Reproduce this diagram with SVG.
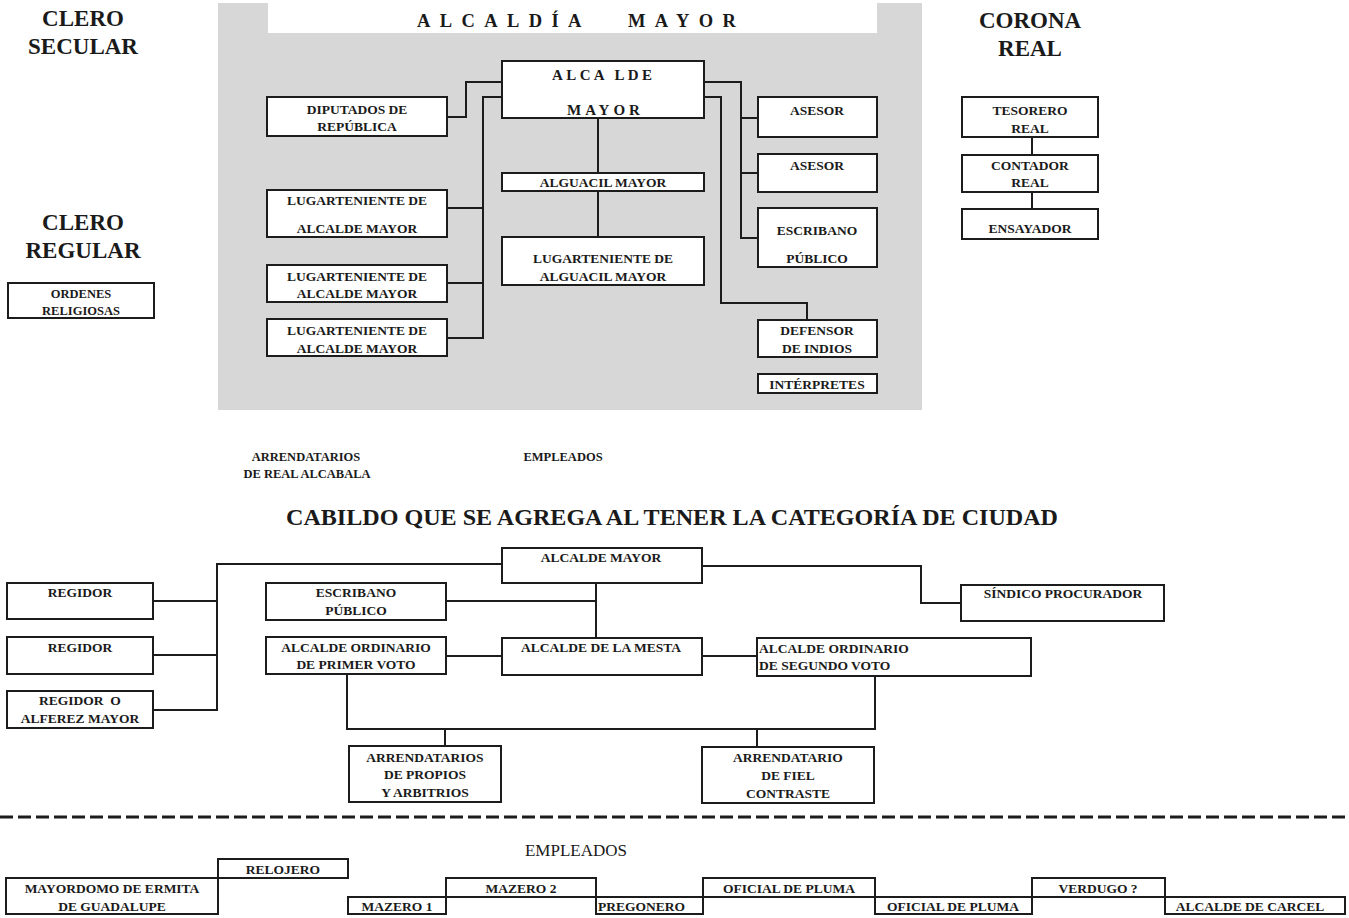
<svg xmlns="http://www.w3.org/2000/svg" width="1349" height="918" viewBox="0 0 1349 918">
<style>
.box{fill:#fff;stroke:#1c1c1c;stroke-width:2}
.conn{fill:none;stroke:#1c1c1c;stroke-width:2}
.t{font-family:"Liberation Serif","Times New Roman",serif;font-weight:bold;font-size:13.5px;fill:#1a1a1a;text-anchor:middle}
.ts{font-family:"Liberation Serif","Times New Roman",serif;font-weight:bold;font-size:12.5px;fill:#1a1a1a;text-anchor:middle}
.l{text-anchor:start}
.h{font-family:"Liberation Serif","Times New Roman",serif;font-weight:bold;font-size:23px;fill:#1a1a1a;text-anchor:middle}
.sp{font-family:"Liberation Serif","Times New Roman",serif;font-weight:bold;fill:#1a1a1a}
.emp{font-family:"Liberation Serif","Times New Roman",serif;font-size:17px;fill:#1a1a1a;text-anchor:middle}
</style>
<rect x="0" y="0" width="1349" height="918" fill="#ffffff"/>
<path d="M218,3 H268 V33 H877 V3 H922 V410 H218 Z" fill="#d7d7d7"/>

<g id="titles">
<text class="sp" font-size="18.5" letter-spacing="9.4" y="27"><tspan x="417">ALCALDÍA</tspan> <tspan x="628">MAYOR</tspan></text>
<text class="h" x="83" y="26">CLERO</text>
<text class="h" x="83" y="54">SECULAR</text>
<text class="h" x="83" y="230">CLERO</text>
<text class="h" x="83" y="258">REGULAR</text>
<text class="h" x="1030" y="28">CORONA</text>
<text class="h" x="1030" y="56">REAL</text>
<text class="sp" font-size="24" x="286" y="525" textLength="772" lengthAdjust="spacingAndGlyphs">CABILDO QUE SE AGREGA AL TENER LA CATEGORÍA DE CIUDAD</text>
<text class="ts" x="306" y="461">ARRENDATARIOS</text>
<text class="ts" x="307" y="478">DE REAL ALCABALA</text>
<text class="ts" x="563" y="461">EMPLEADOS</text>
<text class="emp" x="576" y="856">EMPLEADOS</text>
</g>

<g id="connectors">
<path class="conn" d="M447,117 H466 V82 H502"/>
<path class="conn" d="M502,97 H483 V338 H447 M447,208 H483 M447,283 H483"/>
<path class="conn" d="M598,118 V173 M598,191 V237"/>
<path class="conn" d="M704,82 H741 V238 H758 M741,118 H758 M741,173 H758"/>
<path class="conn" d="M704,97 H721 V303 H807 V320"/>
<path class="conn" d="M1032,137 V155 M1032,192 V209"/>
<path class="conn" d="M502,564 H217 V710 H153 M153,601 H217 M153,655 H217"/>
<path class="conn" d="M702,566 H921 V603 H961"/>
<path class="conn" d="M596,583 V638 M446,601 H596"/>
<path class="conn" d="M446,656 H502 M702,656 H757"/>
<path class="conn" d="M347,674 V729 H875 V676 M445,729 V746 M757,729 V747"/>
<path d="M0,817 H1349" fill="none" stroke="#1c1c1c" stroke-width="3" stroke-dasharray="13 5"/>
</g>

<g id="alcalde-mayor"><rect class="box" x="502" y="61" width="202" height="57"/>
<text class="sp" font-size="15" letter-spacing="3.4" x="552" y="80">ALCA LDE</text>
<text class="sp" font-size="15" letter-spacing="4" x="567" y="115">MAYOR</text></g>
<g id="diputados"><rect class="box" x="267" y="97" width="180" height="39"/>
<text class="t" x="357" y="114">DIPUTADOS DE</text><text class="t" x="357" y="131">REPÚBLICA</text></g>
<g id="lug1"><rect class="box" x="267" y="190" width="180" height="47"/>
<text class="t" x="357" y="205">LUGARTENIENTE DE</text><text class="t" x="357" y="233">ALCALDE MAYOR</text></g>
<g id="lug2"><rect class="box" x="267" y="265" width="180" height="37"/>
<text class="t" x="357" y="281">LUGARTENIENTE DE</text><text class="t" x="357" y="298">ALCALDE MAYOR</text></g>
<g id="lug3"><rect class="box" x="267" y="319" width="180" height="37"/>
<text class="t" x="357" y="335">LUGARTENIENTE DE</text><text class="t" x="357" y="353">ALCALDE MAYOR</text></g>
<g id="alguacil"><rect class="box" x="502" y="173" width="202" height="18"/>
<text class="t" x="603" y="187">ALGUACIL MAYOR</text></g>
<g id="lug-alguacil"><rect class="box" x="502" y="237" width="202" height="48"/>
<text class="t" x="603" y="263">LUGARTENIENTE DE</text><text class="t" x="603" y="281">ALGUACIL MAYOR</text></g>
<g id="asesor1"><rect class="box" x="758" y="97" width="119" height="40"/>
<text class="t" x="817" y="115">ASESOR</text></g>
<g id="asesor2"><rect class="box" x="758" y="154" width="119" height="38"/>
<text class="t" x="817" y="170">ASESOR</text></g>
<g id="escribano"><rect class="box" x="758" y="208" width="119" height="59"/>
<text class="t" x="817" y="235">ESCRIBANO</text><text class="t" x="817" y="263">PÚBLICO</text></g>
<g id="defensor"><rect class="box" x="758" y="320" width="119" height="37"/>
<text class="t" x="817" y="335">DEFENSOR</text><text class="t" x="817" y="353">DE INDIOS</text></g>
<g id="interpretes"><rect class="box" x="758" y="374" width="119" height="19"/>
<text class="t" x="817" y="389">INTÉRPRETES</text></g>

<g id="ordenes"><rect class="box" x="8" y="283" width="146" height="35"/>
<text class="ts" x="81" y="298">ORDENES</text><text class="ts" x="81" y="315">RELIGIOSAS</text></g>

<g id="tesorero"><rect class="box" x="962" y="97" width="136" height="40"/>
<text class="t" x="1030" y="115">TESORERO</text><text class="t" x="1030" y="133">REAL</text></g>
<g id="contador"><rect class="box" x="962" y="155" width="136" height="37"/>
<text class="t" x="1030" y="170">CONTADOR</text><text class="t" x="1030" y="187">REAL</text></g>
<g id="ensayador"><rect class="box" x="962" y="209" width="136" height="30"/>
<text class="t" x="1030" y="233">ENSAYADOR</text></g>

<g id="c-alcalde-mayor"><rect class="box" x="502" y="548" width="200" height="35"/>
<text class="t" x="601" y="562">ALCALDE MAYOR</text></g>
<g id="regidor1"><rect class="box" x="7" y="583" width="146" height="36"/>
<text class="t" x="80" y="597">REGIDOR</text></g>
<g id="regidor2"><rect class="box" x="7" y="637" width="146" height="37"/>
<text class="t" x="80" y="652">REGIDOR</text></g>
<g id="regidor3"><rect class="box" x="7" y="691" width="146" height="37"/>
<text class="t" x="80" y="705" xml:space="preserve">REGIDOR  O</text><text class="t" x="80" y="723">ALFEREZ MAYOR</text></g>
<g id="c-escribano"><rect class="box" x="266" y="583" width="180" height="37"/>
<text class="t" x="356" y="597">ESCRIBANO</text><text class="t" x="356" y="615">PÚBLICO</text></g>
<g id="primer-voto"><rect class="box" x="266" y="637" width="180" height="37"/>
<text class="t" x="356" y="652">ALCALDE ORDINARIO</text><text class="t" x="356" y="669">DE PRIMER VOTO</text></g>
<g id="mesta"><rect class="box" x="502" y="638" width="200" height="37"/>
<text class="t" x="601" y="652">ALCALDE DE LA MESTA</text></g>
<g id="segundo-voto"><rect class="box" x="757" y="638" width="274" height="38"/>
<text class="t l" x="759" y="653">ALCALDE ORDINARIO</text><text class="t l" x="759" y="670">DE SEGUNDO VOTO</text></g>
<g id="sindico"><rect class="box" x="961" y="585" width="203" height="36"/>
<text class="t" x="1063" y="598">SÍNDICO PROCURADOR</text></g>
<g id="arr-propios"><rect class="box" x="349" y="746" width="152" height="56"/>
<text class="t" x="425" y="762">ARRENDATARIOS</text><text class="t" x="425" y="779">DE PROPIOS</text><text class="t" x="425" y="797">Y ARBITRIOS</text></g>
<g id="arr-fiel"><rect class="box" x="702" y="747" width="172" height="56"/>
<text class="t" x="788" y="762">ARRENDATARIO</text><text class="t" x="788" y="780">DE FIEL</text><text class="t" x="788" y="798">CONTRASTE</text></g>

<g id="relojero"><rect class="box" x="218" y="859" width="130" height="19"/>
<text class="t" x="283" y="874">RELOJERO</text></g>
<g id="mayordomo"><rect class="box" x="6" y="878" width="212" height="36"/>
<text class="t" x="112" y="893">MAYORDOMO DE ERMITA</text><text class="t" x="112" y="911">DE GUADALUPE</text></g>
<g id="mazero1"><rect class="box" x="348" y="897" width="98" height="17"/>
<text class="t" x="397" y="911">MAZERO 1</text></g>
<g id="mazero2"><rect class="box" x="446" y="878" width="150" height="19"/>
<text class="t" x="521" y="893">MAZERO 2</text></g>
<g id="pregonero"><rect class="box" x="596" y="897" width="107" height="17"/>
<text class="t l" x="598" y="911">PREGONERO</text></g>
<g id="oficial1"><rect class="box" x="703" y="878" width="172" height="19"/>
<text class="t" x="789" y="893">OFICIAL DE PLUMA</text></g>
<g id="oficial2"><rect class="box" x="875" y="897" width="157" height="17"/>
<text class="t" x="953" y="911">OFICIAL DE PLUMA</text></g>
<g id="verdugo"><rect class="box" x="1032" y="878" width="133" height="19"/>
<text class="t" x="1098" y="893">VERDUGO ?</text></g>
<g id="carcel"><rect class="box" x="1165" y="897" width="180" height="17"/>
<text class="t" x="1250" y="911">ALCALDE DE CARCEL</text></g>
</svg>
